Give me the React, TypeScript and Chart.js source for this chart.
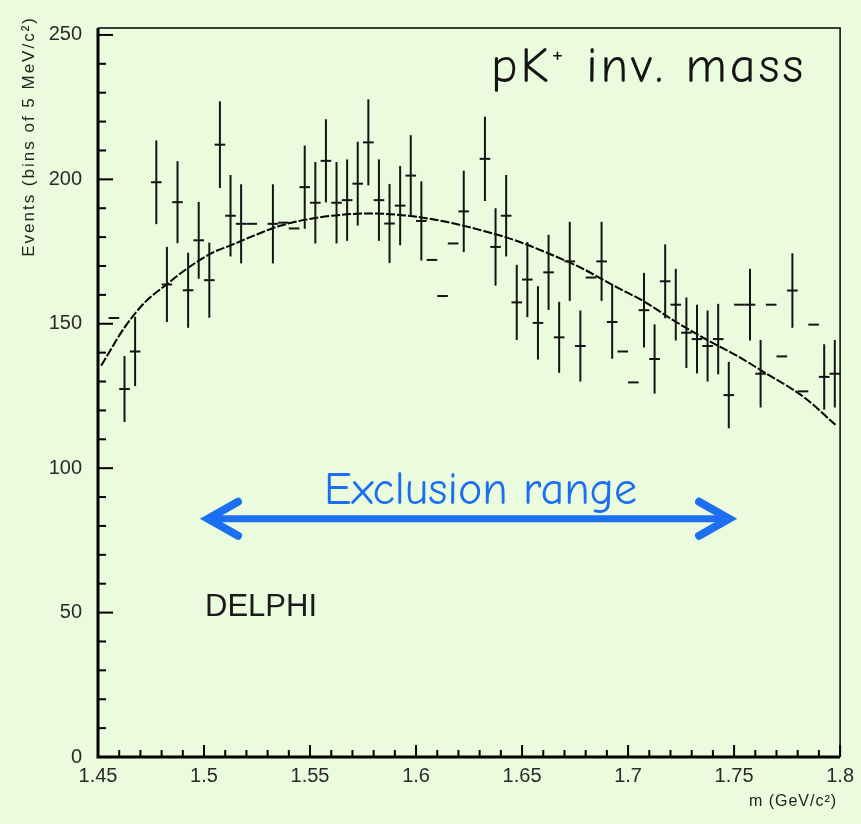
import React, { useEffect, useRef } from 'react';
import { Chart, registerables } from 'chart.js';

Chart.register(...registerables);

// Histogram binning: 5 MeV bins across the pK+ mass window
const MASS_MIN = 1.45;
const MASS_MAX = 1.8;
const BIN_WIDTH = 0.005;

// Events per bin (null = empty bin, nothing drawn)
const counts: (number | null)[] = [
  null, 152, 127.4, 140.4, null, 199, 163.6, 192.1, 161.6, 178.9,
  165.1, 212, 187.4, 184.6, 184.6, null, 184.6, 185, 183, 197.3,
  191.9, 206.4, 191.9, 192.8, 198.5, 212.8, 192.8, 184.7, 190.9, 201.3,
  185.6, 172.1, 159.6, 177.8, 188.9, null, 207.1, 176.6, 187.4, 157.4,
  165.3, 150.3, 167.8, 145.3, 171.6, 142.3, 166, 171.6, 150.6, 140.4,
  129.7, 154.7, 137.8, 164.7, 156.6, 146.9, 144.7, 142.3, 144.7, 125.3,
  156.6, 156.6, 132.7, 156.6, 138.7, 161.5, 126.6, 149.7, 131.6, 132.7,
];

// Statistical error per bin (null = no error bar drawn)
const errors: (number | null)[] = [
  null, null, 11.4, 12.0, null, 14.5, 13.0, 14.2, 13.0, 13.3,
  13.0, 15.0, 14.1, 13.7, null, null, 13.7, null, null, 14.4,
  14.1, 14.4, 14.1, 14.1, 14.5, 14.9, 14.1, 13.7, 13.7, 14.0,
  13.7, null, null, null, 14.1, null, 14.6, 13.4, 14.1, 13.0,
  13.0, 12.7, 13.0, 12.3, 13.7, 12.3, null, 13.7, 12.7, null,
  null, 12.9, 12.0, 12.8, 12.4, 12.2, 11.9, 12.3, 12.2, 11.5,
  null, 12.4, 11.7, null, null, 12.9, null, null, 11.3, 11.7,
];

// Background fit
const fitMass = [
  1.4515, 1.4627, 1.4721, 1.4823, 1.4924, 1.5034, 1.5128, 1.5238, 1.5363,
  1.5543, 1.5778, 1.5966, 1.6091, 1.6185, 1.631, 1.6467, 1.6623, 1.678,
  1.6937, 1.7078, 1.7203, 1.736, 1.7516, 1.7642, 1.7829, 1.7978,
];
const fitValue = [
  135.5, 148.9, 157.4, 163.6, 169.3, 174.4, 177.2, 180.6, 184.0,
  186.8, 188.2, 187.4, 186.0, 184.6, 182.3, 178.9, 174.4, 169.3,
  163.0, 157.6, 151.7, 144.9, 138.8, 133.2, 124.6, 115.0,
];

const xTickValues = [1.45, 1.5, 1.55, 1.6, 1.65, 1.7, 1.75, 1.8];
const xTickLabels = ['1.45', '1.5', '1.55', '1.6', '1.65', '1.7', '1.75', '1.8'];
const yTickValues = [0, 50, 100, 150, 200, 250];
const yTickLabels = ['0', '50', '100', '150', '200', '250'];

const exclusionRange = [1.5, 1.75];
const exclusionLevel = 82.5;
const delphiLevel = 48.9;

const BG = '#ebfbdd';
const INK = '#141414';
const BLUE = '#1d6ff2';
const COMIC = '"Comic Sans MS", "Comic Neue", Lato, sans-serif';
const SANS = '"Liberation Sans", Arial, sans-serif';

const decorPlugin = {
  id: 'histDecor',
  afterDatasetsDraw(chart: any) {
    const { ctx, chartArea: a } = chart;
    const xs = chart.scales.x;
    const ys = chart.scales.y;
    ctx.save();

    // histogram entries: bin-width bar plus vertical error bar
    ctx.strokeStyle = INK;
    ctx.lineWidth = 2;
    ctx.setLineDash([]);
    counts.forEach((v, i) => {
      if (v == null) return;
      const lo = MASS_MIN + i * BIN_WIDTH;
      const x0 = xs.getPixelForValue(lo);
      const x1 = xs.getPixelForValue(lo + BIN_WIDTH);
      const xc = (x0 + x1) / 2;
      const y = ys.getPixelForValue(v);
      ctx.beginPath();
      ctx.moveTo(x0, y);
      ctx.lineTo(x1, y);
      ctx.stroke();
      const e = errors[i];
      if (e != null) {
        ctx.beginPath();
        ctx.moveTo(xc, ys.getPixelForValue(v - e));
        ctx.lineTo(xc, ys.getPixelForValue(v + e));
        ctx.stroke();
      }
    });

    // frame
    ctx.strokeStyle = '#000';
    ctx.lineWidth = 1.5;
    ctx.beginPath();
    ctx.moveTo(a.left, a.top);
    ctx.lineTo(a.right, a.top);
    ctx.lineTo(a.right, a.bottom);
    ctx.stroke();
    ctx.lineWidth = 3;
    ctx.beginPath();
    ctx.moveTo(a.left, a.top);
    ctx.lineTo(a.left, a.bottom);
    ctx.lineTo(a.right, a.bottom);
    ctx.stroke();

    // inward tick marks
    ctx.lineWidth = 2;
    for (let v = 0; v <= 250; v += 10) {
      const len = v % 50 === 0 ? 15 : 8;
      const y = ys.getPixelForValue(v);
      ctx.beginPath();
      ctx.moveTo(a.left, y);
      ctx.lineTo(a.left + len, y);
      ctx.stroke();
    }
    for (let k = 0; k <= 35; k++) {
      const len = k % 5 === 0 ? 12 : 7;
      const x = xs.getPixelForValue(MASS_MIN + k * 0.01);
      ctx.beginPath();
      ctx.moveTo(x, a.bottom);
      ctx.lineTo(x, a.bottom - len);
      ctx.stroke();
    }

    // axis titles
    ctx.fillStyle = '#222';
    ctx.font = `17px ${SANS}`;
    (ctx as any).letterSpacing = '2px';
    ctx.save();
    ctx.translate(29, a.top - 12);
    ctx.rotate(-Math.PI / 2);
    ctx.textAlign = 'right';
    ctx.textBaseline = 'middle';
    ctx.fillText('Events (bins of 5 MeV/c²)', 0, 0);
    ctx.restore();
    ctx.font = `16px ${SANS}`;
    (ctx as any).letterSpacing = '1px';
    ctx.textAlign = 'right';
    ctx.textBaseline = 'alphabetic';
    ctx.fillText('m (GeV/c²)', a.right - 3, 806);
    (ctx as any).letterSpacing = '0px';

    // exclusion range arrow
    const xL = xs.getPixelForValue(exclusionRange[0]) + 4;
    const xR = xs.getPixelForValue(exclusionRange[1]) - 5;
    const ay = ys.getPixelForValue(exclusionLevel);
    ctx.strokeStyle = BLUE;
    ctx.lineCap = 'round';
    ctx.lineJoin = 'miter';
    ctx.lineWidth = 7;
    ctx.beginPath();
    ctx.moveTo(xL + 4, ay);
    ctx.lineTo(xR - 4, ay);
    ctx.stroke();
    ctx.lineWidth = 8;
    ctx.beginPath();
    ctx.moveTo(xL + 30, ay - 17);
    ctx.lineTo(xL, ay);
    ctx.lineTo(xL + 30, ay + 17);
    ctx.stroke();
    ctx.beginPath();
    ctx.moveTo(xR - 30, ay - 17);
    ctx.lineTo(xR, ay);
    ctx.lineTo(xR - 30, ay + 17);
    ctx.stroke();

    ctx.fillStyle = BLUE;
    ctx.font = `46px ${COMIC}`;
    ctx.textAlign = 'center';
    ctx.textBaseline = 'alphabetic';
    ctx.fillText('Exclusion range', (xL + xR) / 2 + 12, ay - 15);

    // experiment label
    ctx.fillStyle = '#1a1a1a';
    ctx.font = `31px ${SANS}`;
    ctx.textAlign = 'left';
    ctx.fillText('DELPHI', xs.getPixelForValue(1.5) + 1, ys.getPixelForValue(delphiLevel));

    // plot title with superscript charge
    ctx.fillStyle = INK;
    ctx.textAlign = 'left';
    (ctx as any).letterSpacing = '3px';
    let tx = 491;
    const base = 82;
    ctx.font = `50px ${COMIC}`;
    ctx.fillText('pK', tx, base);
    tx += ctx.measureText('pK').width;
    ctx.font = `27px ${COMIC}`;
    ctx.fillText('+', tx, base - 20);
    tx += ctx.measureText('+').width;
    ctx.font = `50px ${COMIC}`;
    ctx.fillText(' inv. mass', tx, base);
    (ctx as any).letterSpacing = '0px';

    ctx.restore();
  },
};

export default function App() {
  const canvasRef = useRef<HTMLCanvasElement | null>(null);

  useEffect(() => {
    const canvas = canvasRef.current;
    if (!canvas) return;
    const chart = new Chart(canvas, {
      type: 'scatter',
      data: {
        datasets: [
          {
            type: 'line',
            label: 'fit',
            data: fitMass.map((m, i) => ({ x: m, y: fitValue[i] })),
            borderColor: '#000',
            borderWidth: 2,
            borderDash: [9, 2],
            pointRadius: 0,
            cubicInterpolationMode: 'monotone',
            fill: false,
          },
        ],
      },
      options: {
        animation: false,
        responsive: false,
        devicePixelRatio: 1,
        layout: { padding: { left: 0, right: 16, top: 13, bottom: 0 } },
        plugins: {
          legend: { display: false },
          tooltip: { enabled: false },
        },
        scales: {
          x: {
            type: 'linear',
            min: MASS_MIN,
            max: MASS_MAX,
            grid: { display: false, drawTicks: false },
            border: { display: false },
            afterBuildTicks: (s: any) => {
              s.ticks = xTickValues.map((v) => ({ value: v }));
            },
            afterFit: (s: any) => {
              s.height = 67;
            },
            ticks: {
              padding: 7,
              autoSkip: false,
              maxRotation: 0,
              color: '#2a2a2a',
              font: { family: SANS, size: 20 },
              callback: (_v: any, i: number) => xTickLabels[i],
            },
          },
          y: {
            type: 'linear',
            min: 0,
            max: 252.4,
            grid: { display: false, drawTicks: false },
            border: { display: false },
            afterBuildTicks: (s: any) => {
              s.ticks = yTickValues.map((v) => ({ value: v }));
            },
            afterFit: (s: any) => {
              s.width = 98;
            },
            ticks: {
              padding: 16,
              color: '#2a2a2a',
              font: { family: SANS, size: 20 },
              callback: (_v: any, i: number) => yTickLabels[i],
            },
          },
        },
      },
      plugins: [decorPlugin],
    });
    return () => chart.destroy();
  }, []);

  return (
    <div
      style={{
        position: 'fixed',
        left: 0,
        top: 0,
        width: 861,
        height: 824,
        background: BG,
      }}
    >
      <canvas ref={canvasRef} width={861} height={824} style={{ display: 'block' }} />
    </div>
  );
}
